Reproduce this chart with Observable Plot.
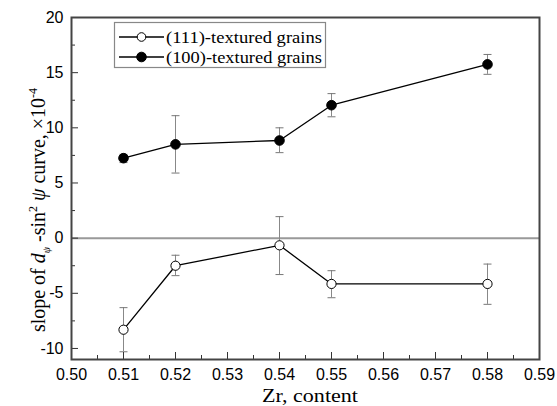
<!DOCTYPE html>
<html>
<head>
<meta charset="utf-8">
<script src="https://cdn.jsdelivr.net/npm/d3@7"></script>
<script src="https://cdn.jsdelivr.net/npm/@observablehq/plot@0.6"></script>
<style>
  html, body { margin: 0; padding: 0; background: #fff; }
  #chart { width: 557px; height: 406px; }
</style>
</head>
<body>
<div id="chart"></div>
<script>
// ---- data ----
const zr = [0.51, 0.52, 0.54, 0.55, 0.58];
const s111 = [-8.3, -2.5, -0.65, -4.15, -4.15];
const s111Lo = [-10.3, -3.4, -3.3, -5.4, -6.0];
const s111Hi = [-6.3, -1.55, 1.95, -2.95, -2.35];
const s100 = [7.25, 8.5, 8.85, 12.05, 15.75];
const s100Lo = [6.85, 5.9, 7.75, 11.0, 14.85];
const s100Hi = [7.6, 11.1, 10.0, 13.1, 16.65];
const seriesNames = ["(111)-textured grains", "(100)-textured grains"];
const xMajor = [0.50, 0.51, 0.52, 0.53, 0.54, 0.55, 0.56, 0.57, 0.58, 0.59];
const xMinor = [0.505, 0.515, 0.525, 0.535, 0.545, 0.555, 0.565, 0.575, 0.585];
const yMajor = [-10, -5, 0, 5, 10, 15, 20];
const yMinor = [-7.5, -2.5, 2.5, 7.5, 12.5, 17.5];

const rows = [];
zr.forEach((x, i) => {
  rows.push({x, y: s111[i], lo: s111Lo[i], hi: s111Hi[i], s: seriesNames[0]});
  rows.push({x, y: s100[i], lo: s100Lo[i], hi: s100Hi[i], s: seriesNames[1]});
});
const r111 = rows.filter(d => d.s === seriesNames[0]);
const r100 = rows.filter(d => d.s === seriesNames[1]);

const capSymbol = {draw(ctx, size) { const w = Math.sqrt(size / Math.PI); ctx.moveTo(-w, 0); ctx.lineTo(w, 0); }};
const sans = "'Liberation Sans', Arial, sans-serif";
const serif = "'Liberation Serif', 'Times New Roman', serif";

const plot = Plot.plot({
  width: 557, height: 406,
  marginLeft: 71, marginRight: 18, marginTop: 17, marginBottom: 47,
  style: {fontFamily: sans, fontSize: "16px", color: "#000", background: "#fff"},
  x: {domain: [0.50, 0.59]},
  y: {domain: [-11, 20]},
  marks: [
    Plot.ruleY([0], {stroke: "#999", strokeWidth: 2}),
    Plot.ruleX(rows, {x: "x", y1: "lo", y2: "hi", stroke: "#888", strokeWidth: 1}),
    Plot.dot(rows, {x: "x", y: "lo", symbol: capSymbol, r: 4, stroke: "#777", strokeWidth: 1, fill: "none"}),
    Plot.dot(rows, {x: "x", y: "hi", symbol: capSymbol, r: 4, stroke: "#777", strokeWidth: 1, fill: "none"}),
    Plot.line(r111, {x: "x", y: "y", stroke: "#000", strokeWidth: 1.3}),
    Plot.line(r100, {x: "x", y: "y", stroke: "#000", strokeWidth: 1.3}),
    Plot.dot(r111, {x: "x", y: "y", r: 4.6, fill: "#fff", stroke: "#000", strokeWidth: 1}),
    Plot.dot(r100, {x: "x", y: "y", r: 4.8, fill: "#000", stroke: "#000", strokeWidth: 1}),
    Plot.axisX({ticks: xMajor, tickSize: -7, tickPadding: 16, tickFormat: d3.format(".2f"), label: null, stroke: "#333"}),
    Plot.axisX({ticks: xMinor, tickSize: -4, tickFormat: () => "", label: null, stroke: "#333"}),
    Plot.axisY({ticks: yMajor, tickSize: -7, tickPadding: 15, tickFormat: d => d3.format("d")(d).replace("−", "-"), label: null, stroke: "#333"}),
    Plot.axisY({ticks: yMinor, tickSize: -4, tickFormat: () => "", label: null, stroke: "#333"}),
    Plot.frame({stroke: "#444", strokeWidth: 2})
  ]
});

const svg = d3.select(plot);
// x-axis title
svg.append("text")
  .attr("x", 310).attr("y", 402)
  .attr("text-anchor", "middle")
  .attr("font-family", serif).attr("font-size", 19).attr("fill", "#000")
  .attr("textLength", 96).attr("lengthAdjust", "spacingAndGlyphs")
  .text("Zr, content");

// y-axis title with rich formatting
const yt = svg.append("text")
  .attr("transform", "translate(45,210) rotate(-90)")
  .attr("text-anchor", "middle")
  .attr("font-family", serif).attr("font-size", 20).attr("fill", "#000");
yt.append("tspan").text("slope of ");
yt.append("tspan").attr("font-style", "italic").text("d");
yt.append("tspan").attr("font-size", 10).attr("dy", 5).attr("font-style", "italic").text("ψ");
yt.append("tspan").attr("dy", -5).text(" -sin");
yt.append("tspan").attr("font-size", 12).attr("dy", -8).text("2");
yt.append("tspan").attr("dy", 8).attr("font-style", "italic").text(" ψ");
yt.append("tspan").text(" curve, ×10");
yt.append("tspan").attr("font-size", 12).attr("dy", -8).text("-4");

// legend
const lg = svg.append("g");
lg.append("rect").attr("x", 114.5).attr("y", 22.5).attr("width", 211).attr("height", 45)
  .attr("fill", "#fff").attr("stroke", "#888").attr("stroke-width", 1.2);
const legendRows = [{name: seriesNames[0], fill: "#fff", y: 37}, {name: seriesNames[1], fill: "#000", y: 57}];
legendRows.forEach(r => {
  lg.append("line").attr("x1", 119).attr("x2", 164).attr("y1", r.y).attr("y2", r.y)
    .attr("stroke", "#000").attr("stroke-width", 1.3);
  lg.append("circle").attr("cx", 141.5).attr("cy", r.y).attr("r", r.fill === "#000" ? 4.8 : 4.3)
    .attr("fill", r.fill).attr("stroke", "#000").attr("stroke-width", 1);
  lg.append("text").attr("x", 166).attr("y", r.y + 5.5).attr("text-anchor", "start")
    .attr("font-family", serif).attr("font-size", 17).attr("fill", "#000")
    .attr("textLength", 156).attr("lengthAdjust", "spacingAndGlyphs").text(r.name);
});

document.getElementById("chart").appendChild(plot);
</script>
</body>
</html>
